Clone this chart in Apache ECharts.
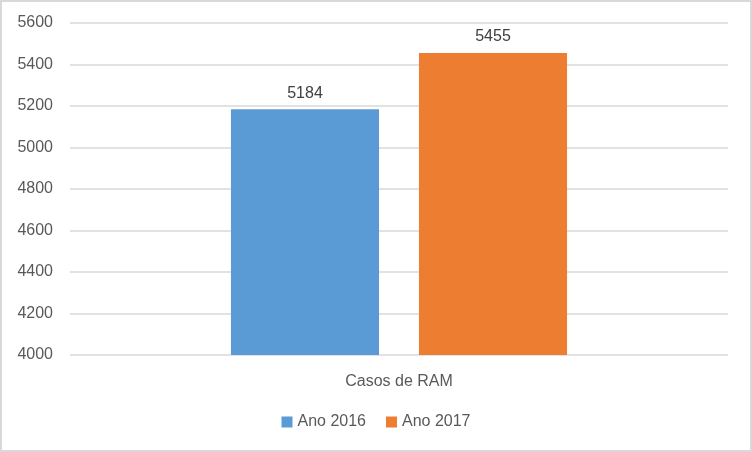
<!DOCTYPE html>
<html><head><meta charset="utf-8">
<script src="https://cdn.jsdelivr.net/npm/echarts@6/dist/echarts.min.js"></script>
<style>html,body{margin:0;padding:0;background:#fff}#c{width:752px;height:452px;box-sizing:border-box;border:2px solid #d9d9d9}</style>
</head><body><div id="c"></div>
<script>
const categories = ['Casos de RAM'];
const seriesNames = ['Ano 2016', 'Ano 2017'];
const values2016 = [5184];
const values2017 = [5455];
const yMin = 4000, yMax = 5600, yStep = 200;
const colors = ['#5B9BD5', '#ED7D31'];

const chart = echarts.init(document.getElementById('c'), null, {renderer: 'canvas'});
const font = '"Liberation Sans", Arial, sans-serif';
chart.setOption({
  animation: false,
  textStyle: {fontFamily: font},
  grid: {left: 68, right: 22, top: 21, bottom: 95},
  legend: {
    bottom: 15, left: 'center', itemWidth: 11, itemHeight: 11, itemGap: 20, icon: 'rect',
    textStyle: {color: '#595959', fontSize: 16, fontFamily: font},
    data: seriesNames
  },
  xAxis: {
    type: 'category', data: categories,
    axisLine: {show: false}, axisTick: {show: false},
    axisLabel: {color: '#595959', fontSize: 16, margin: 19, fontFamily: font}
  },
  yAxis: {
    type: 'value', min: yMin, max: yMax, interval: yStep,
    axisLine: {show: false}, axisTick: {show: false},
    axisLabel: {color: '#595959', fontSize: 16, margin: 17, fontFamily: font, formatter: v => String(v)},
    splitLine: {lineStyle: {color: '#d9d9d9', width: 1.5}}
  },
  series: [
    {name: seriesNames[0], type: 'bar', data: values2016, barWidth: '22.5%', barGap: '27%',
     itemStyle: {color: colors[0]},
     label: {show: true, position: 'top', distance: 8, color: '#404040', fontSize: 16, fontFamily: font}},
    {name: seriesNames[1], type: 'bar', data: values2017, barWidth: '22.5%', barGap: '27%',
     itemStyle: {color: colors[1]},
     label: {show: true, position: 'top', distance: 8, color: '#404040', fontSize: 16, fontFamily: font}}
  ]
});
</script></body></html>
